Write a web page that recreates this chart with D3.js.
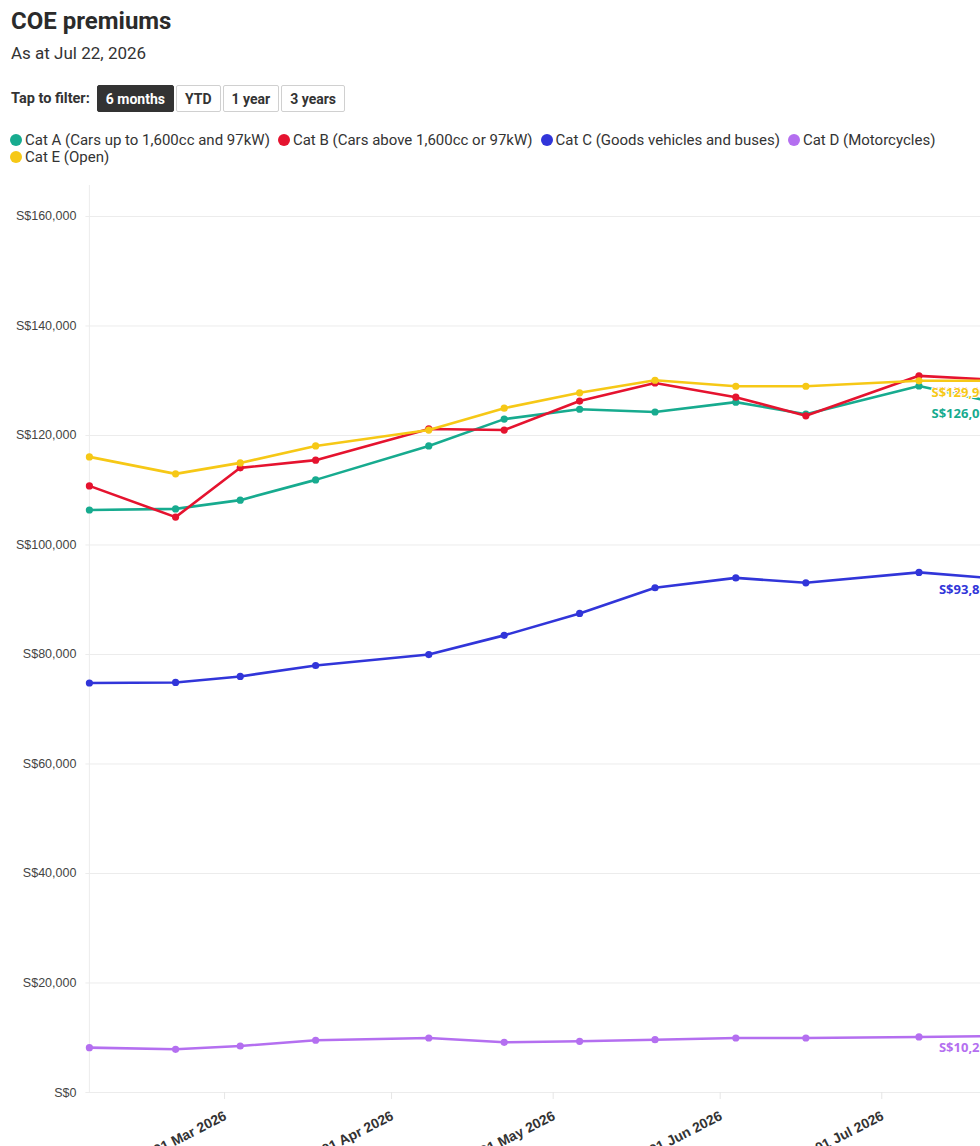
<!DOCTYPE html>
<html>
<head>
<meta charset="utf-8">
<script src="https://cdn.jsdelivr.net/npm/d3@7"></script>
<style>
  html, body { margin: 0; padding: 0; background: #fff; overflow: hidden; width: 980px; height: 1146px; }
  body { font-family: Roboto, "Liberation Sans", sans-serif; color: #333; position: relative; }
  #head { position: absolute; left: 11px; top: 0; z-index: 2; }
  h1 { margin: 0; position: absolute; top: 7px; font-size: 24px; font-weight: 700; white-space: nowrap; color: #2b2b2b; }
  .sub { position: absolute; top: 43px; font-size: 17px; white-space: nowrap; color: #333; }
  .filter { position: absolute; top: 85px; display: flex; align-items: center; white-space: nowrap; }
  .filter span { font-size: 14.5px; font-weight: 700; margin-right: 7px; }
  .filter button { font-family: inherit; font-size: 14px; font-weight: 700; height: 27px; padding: 0 8px; margin-right: 2px;
    border: 1px solid #d0d0d0; border-radius: 2px; background: #fff; color: #333; }
  .filter button.on { background: #333; color: #fff; border-color: #333; }
  #legend { position: absolute; left: 10px; top: 132px; width: 960px; font-size: 15px; line-height: 17px; z-index: 2; }
  #legend .item { display: inline-block; margin-right: 8px; white-space: nowrap; color: #333; }
  #legend .dot { display: inline-block; width: 12px; height: 12px; border-radius: 50%; margin-right: 3px; vertical-align: -1px; }
  #chart { position: absolute; left: 0; top: 0; }
</style>
</head>
<body>
<div id="head">
  <h1>COE premiums</h1>
  <div class="sub">As at Jul 22, 2026</div>
  <div class="filter"><span>Tap to filter:</span></div>
</div>
<div id="legend"></div>
<div id="chart"></div>
<script>
// Bidding dates shown in the 6 month view
var dates = ['2026-02-04', '2026-02-20', '2026-03-04', '2026-03-18', '2026-04-08', '2026-04-22',
             '2026-05-06', '2026-05-20', '2026-06-04', '2026-06-17', '2026-07-08', '2026-07-22'];

var catA = [106300, 106500, 108100, 111800, 118000, 122900, 124700, 124200, 126000, 123800, 128950, 126000];
var catB = [110700, 105000, 114000, 115400, 121100, 120900, 126200, 129500, 126900, 123500, 130800, 130100];
var catC = [74700, 74800, 75900, 77900, 79900, 83400, 87400, 92100, 93900, 93000, 94900, 93800];
var catD = [8100, 7800, 8400, 9450, 9860, 9080, 9260, 9550, 9860, 9860, 10050, 10200];
var catE = [116000, 112900, 114900, 118000, 120900, 124900, 127700, 130000, 128900, 128900, 129900, 129900];

var seriesNames = ['Cat A (Cars up to 1,600cc and 97kW)', 'Cat B (Cars above 1,600cc or 97kW)',
                   'Cat C (Goods vehicles and buses)', 'Cat D (Motorcycles)', 'Cat E (Open)'];
var seriesColors = ['#17ab8f', '#e5132f', '#3135d9', '#b46ff0', '#f6c816'];
var yTicks = [0, 20000, 40000, 60000, 80000, 100000, 120000, 140000, 160000];
var filters = ['6 months', 'YTD', '1 year', '3 years'];

var parse = d3.timeParse('%Y-%m-%d');
var series = [catA, catB, catC, catD, catE].map(function(vals, i) {
  return {
    name: seriesNames[i],
    color: seriesColors[i],
    values: vals.map(function(v, j) { return { date: parse(dates[j]), value: v }; })
  };
});

// filter buttons
var filter = d3.select('.filter');
filter.selectAll('button').data(filters).enter().append('button')
  .attr('class', function(d, i) { return i === 0 ? 'on' : null; })
  .text(function(d) { return d; });

// legend
var items = d3.select('#legend').selectAll('.item').data(series).enter()
  .append('span').attr('class', 'item');
items.append('span').attr('class', 'dot').style('background', function(d) { return d.color; });
items.append('span').text(function(d) { return d.name; });

// chart svg is wider than the window, the right edge gets cut off like the original
var width = 1040, height = 1146;
var svg = d3.select('#chart').append('svg')
  .attr('width', width)
  .attr('height', height)
  .style('font-family', '"Open Sans", sans-serif');

var x = d3.scaleTime()
  .domain([parse(dates[0]), parse(dates[dates.length - 1])])
  .range([89.4, 994.4]);

var y = d3.scaleLinear()
  .domain([0, 165000])
  .range([1092, 188.6]);

// y axis + gridlines
var yAxis = svg.append('g')
  .attr('transform', 'translate(89.4,0)')
  .call(d3.axisLeft(y).tickValues(yTicks).tickSizeOuter(0)
    .tickFormat(function(d) { return 'S$' + d3.format(',')(d); }));
yAxis.select('.domain').remove();
yAxis.selectAll('line').attr('x1', -4).attr('x2', width).attr('stroke', '#ececec');
yAxis.selectAll('text').attr('x', -13).attr('fill', '#444').style('font-size', '12.5px');

svg.append('line')
  .attr('x1', 89.4).attr('x2', 89.4)
  .attr('y1', 185).attr('y2', 1092)
  .attr('stroke', '#ececec');

// x axis, labels slanted and ending at the tick
var xAxis = svg.append('g')
  .attr('transform', 'translate(0,1092)')
  .call(d3.axisBottom(x).ticks(d3.timeMonth.every(1)).tickSize(7).tickSizeOuter(0)
    .tickFormat(d3.timeFormat('%d %b %Y')));
xAxis.select('.domain').remove();
xAxis.selectAll('line').attr('stroke', '#e6e6e6');
xAxis.selectAll('text')
  .attr('text-anchor', 'end')
  .attr('fill', '#333')
  .style('font-size', '14px')
  .style('font-weight', '700')
  .attr('y', 0)
  .attr('dy', 0)
  .attr('transform', 'translate(3,27) rotate(-27)');

// lines + points
var line = d3.line()
  .x(function(d) { return x(d.date); })
  .y(function(d) { return y(d.value); });

var groups = svg.selectAll('.series').data(series).enter().append('g').attr('class', 'series');

groups.append('path')
  .attr('d', function(d) { return line(d.values); })
  .attr('fill', 'none')
  .attr('stroke', function(d) { return d.color; })
  .attr('stroke-width', 2.6)
  .attr('stroke-linejoin', 'round');

groups.selectAll('circle').data(function(d) { return d.values.map(function(v) { return { v: v, color: d.color }; }); })
  .enter().append('circle')
  .attr('cx', function(d) { return x(d.v.date); })
  .attr('cy', function(d) { return y(d.v.value); })
  .attr('r', 3.6)
  .attr('fill', function(d) { return d.color; });

// latest value labels under the last point, drawn above all lines with a white halo
svg.append('g').selectAll('text').data(series).enter().append('text')
  .attr('x', function(d) { return x(d.values[d.values.length - 1].date); })
  .attr('y', function(d) { return y(d.values[d.values.length - 1].value) + 16; })
  .attr('text-anchor', 'end')
  .attr('fill', function(d) { return d.color; })
  .attr('stroke', '#fff')
  .attr('stroke-width', 2)
  .attr('paint-order', 'stroke')
  .style('font-size', '13px')
  .style('font-weight', '700')
  .text(function(d) { return 'S$' + d3.format(',')(d.values[d.values.length - 1].value); });
</script>
</body>
</html>
